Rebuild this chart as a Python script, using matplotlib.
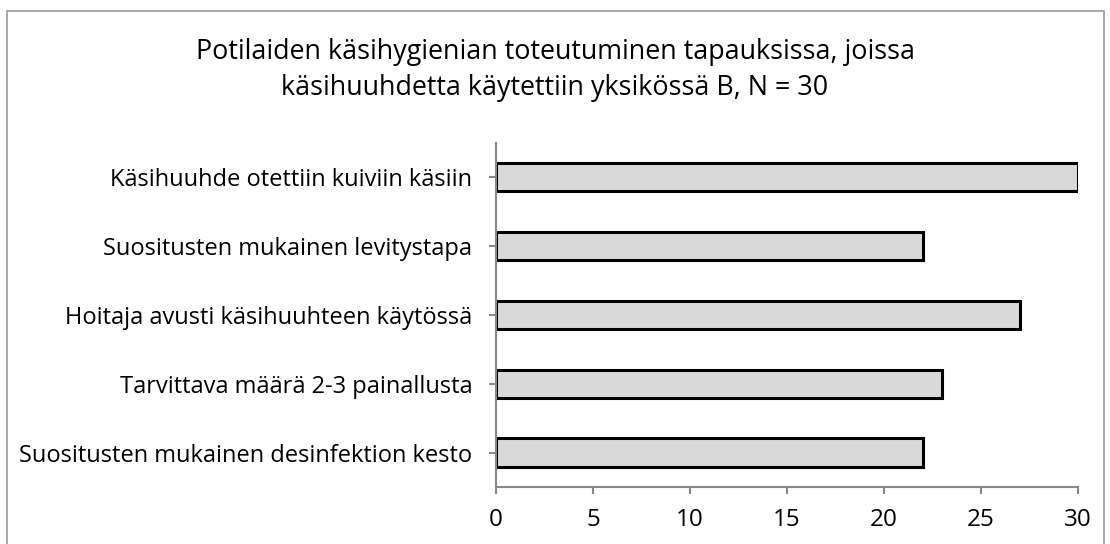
import matplotlib.pyplot as plt
from matplotlib.patches import Rectangle

plt.rcParams['font.family'] = ['Open Sans', 'DejaVu Sans']

# data (bottom to top)
labels = ["Suositusten mukainen desinfektion kesto",
          "Tarvittava määrä 2-3 painallusta",
          "Hoitaja avusti käsihuuhteen käytössä",
          "Suositusten mukainen levitystapa",
          "Käsihuuhde otettiin kuiviin käsiin"]
values = [22, 23, 27, 22, 30]
xticks = [0, 5, 10, 15, 20, 25, 30]

fig = plt.figure(figsize=(11.1, 5.44), dpi=100)
ax = fig.add_axes([0.4468, 0.1048, 0.9712 - 0.4468, 0.7379 - 0.1048])

ax.barh(range(len(values)), values, height=0.41, color='#d9d9d9',
        edgecolor='black', linewidth=2.2)

ax.set_xlim(0, 30)
ax.set_ylim(-0.5, len(values) - 0.5)
ax.set_xticks(xticks)
ax.set_yticks(range(len(labels)))
ax.set_yticklabels(labels)

for s in ['top', 'right']:
    ax.spines[s].set_visible(False)
for s in ['left', 'bottom']:
    ax.spines[s].set_color('#888888')
    ax.spines[s].set_linewidth(1.5)

ax.tick_params(axis='both', colors='#888888', width=1.5, length=5,
               labelcolor='black')
ax.tick_params(axis='y', pad=12, labelsize=17)
ax.tick_params(axis='x', pad=10, labelsize=17.5)

fig.text(0.5, 0.905, "Potilaiden käsihygienian toteutuminen tapauksissa, joissa",
         ha='center', va='center', fontsize=19.4)
fig.text(0.5, 0.838, "käsihuuhdetta käytettiin yksikössä B, N = 30",
         ha='center', va='center', fontsize=19.4)

fig.patches.append(Rectangle((7 / 1110, -0.01), 1097 / 1110, 1 - 11 / 544 + 0.01,
                             transform=fig.transFigure, fill=False,
                             edgecolor='#9a9a9a', linewidth=1.2))

fig.savefig('out.png', dpi=100)
